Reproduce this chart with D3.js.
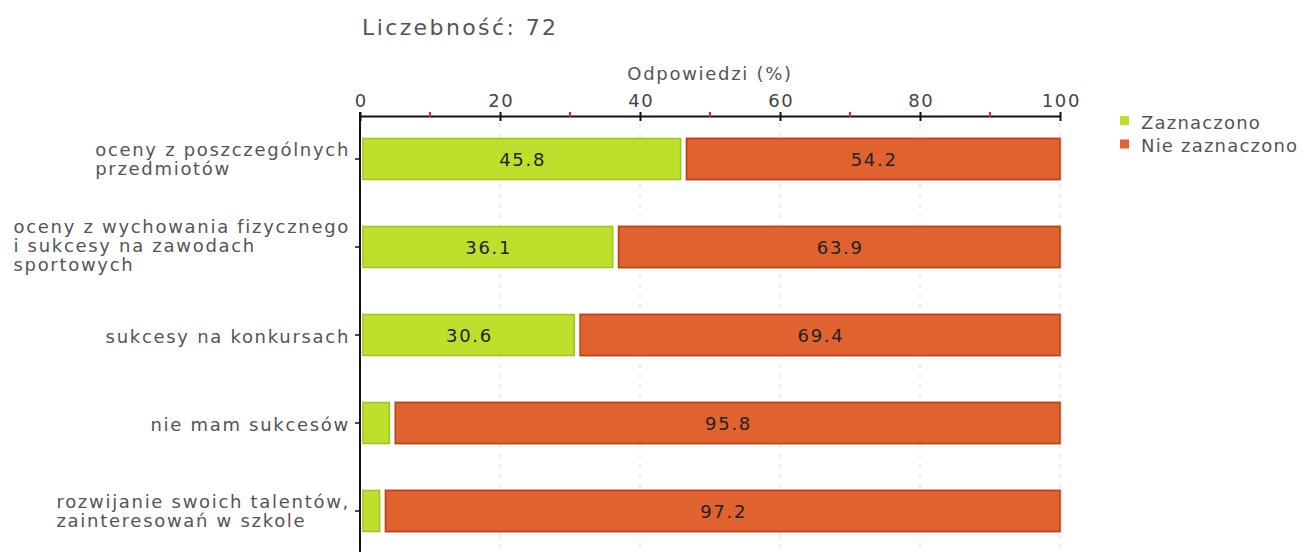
<!DOCTYPE html>
<html>
<head>
<meta charset="utf-8">
<script src="https://cdn.jsdelivr.net/npm/d3@7"></script>
<style>
  html, body { margin: 0; padding: 0; background: #fff; }
  svg { display: block; }
  text { font-family: "DejaVu Sans", Verdana, sans-serif; }
</style>
</head>
<body>
<svg id="chart" width="1304" height="552"></svg>
<script>
// Answer categories (each entry is a list of label lines)
const categories = [
  ["oceny z poszczególnych", "przedmiotów"],
  ["oceny z wychowania fizycznego", "i sukcesy na zawodach", "sportowych"],
  ["sukcesy na konkursach"],
  ["nie mam sukcesów"],
  ["rozwijanie swoich talentów,", "zainteresowań w szkole"]
];
// Share of answers (%)
const marked = [45.8, 36.1, 30.6, 4.2, 2.8];
const notMarked = [54.2, 63.9, 69.4, 95.8, 97.2];
const seriesNames = ["Zaznaczono", "Nie zaznaczono"];
const majorTicks = [0, 20, 40, 60, 80, 100];
const minorTicks = [10, 30, 50, 70, 90];
const sampleSize = 72;

const colors = {
  greenFill: "#bde02d", greenStroke: "#9bc41c",
  orangeFill: "#e0632f", orangeStroke: "#b8421a", orangeHalo: "#f6cfb8"
};
const FS = 18;      // base font size
const LS = 1.7;     // base letter spacing

const svg = d3.select("#chart");
const x = d3.scaleLinear().domain([0, 100]).range([360, 1060]);
const y = d3.scaleBand().domain(d3.range(categories.length)).range([115, 555]);
const barH = 41;
const axisY = 116;

// Title
svg.append("text").attr("x", 362).attr("y", 35)
  .attr("font-size", 22).attr("fill", "#555").attr("letter-spacing", 2.4)
  .text("Liczebność: " + sampleSize);

// Axis title
svg.append("text").attr("x", 710).attr("y", 80).attr("text-anchor", "middle")
  .attr("font-size", FS).attr("fill", "#555").attr("letter-spacing", LS)
  .text("Odpowiedzi (%)");

// Dashed grid
svg.append("g").selectAll("line").data(majorTicks.filter(d => d > 0)).join("line")
  .attr("x1", d => x(d)).attr("x2", d => x(d))
  .attr("y1", 124).attr("y2", 552)
  .attr("stroke", "#ddd").attr("stroke-width", 1).attr("stroke-dasharray", "4,6");

// Top axis
const axis = d3.axisTop(x).tickValues(majorTicks).tickSize(0).tickPadding(9);
const gAxis = svg.append("g").attr("transform", `translate(0,${axisY})`).call(axis);
gAxis.select(".domain").attr("stroke", "#111").attr("stroke-width", 2);
gAxis.selectAll(".tick text").attr("font-size", FS).attr("fill", "#444")
  .attr("font-family", "DejaVu Sans, sans-serif").attr("letter-spacing", LS)
  .attr("dx", LS / 2);
gAxis.selectAll(".tick").append("line")
  .attr("y1", -4).attr("y2", 5).attr("stroke", "#111").attr("stroke-width", 2);
svg.append("g").selectAll("line").data(minorTicks).join("line")
  .attr("x1", d => x(d)).attr("x2", d => x(d))
  .attr("y1", axisY - 4).attr("y2", axisY + 1)
  .attr("stroke", "#e8202a").attr("stroke-width", 2);

// Left axis line
svg.append("line").attr("x1", 360).attr("x2", 360).attr("y1", axisY - 4).attr("y2", 552)
  .attr("stroke", "#111").attr("stroke-width", 2);

// Category ticks and labels
const rows = svg.append("g").selectAll("g").data(categories).join("g")
  .attr("transform", (d, i) => `translate(0,${y(i) + y.bandwidth() / 2})`);
rows.append("line").attr("x1", 355).attr("x2", 360).attr("stroke", "#111").attr("stroke-width", 1.5);
rows.each(function (lines) {
  const g = d3.select(this);
  const t = g.append("text").attr("font-size", FS).attr("fill", "#555").attr("letter-spacing", LS);
  const lh = 19;
  const n = lines.length;
  const off = 8 - (n - 1) * 1.5;
  lines.forEach((ln, k) => {
    t.append("tspan").attr("x", 0).attr("y", off + (k - (n - 1) / 2) * lh).text(ln);
  });
  const w = d3.max(t.selectAll("tspan").nodes(), nd => nd.getComputedTextLength());
  t.selectAll("tspan").attr("x", 350 - w);
});

// Bars
const bars = svg.append("g");
marked.forEach((v, i) => {
  const cy = y(i) + y.bandwidth() / 2;
  const top = cy - barH / 2;
  const gx0 = x(0) + 3, gx1 = x(v);
  bars.append("rect").attr("x", gx0).attr("y", top).attr("width", gx1 - gx0).attr("height", barH)
    .attr("fill", colors.greenFill).attr("stroke", colors.greenStroke).attr("stroke-width", 1.5);
  const ox0 = x(v) + 6, ox1 = x(v + notMarked[i]);
  bars.append("rect").attr("x", ox0 - 1).attr("y", top - 1).attr("width", ox1 - ox0 + 2).attr("height", barH + 2)
    .attr("fill", "none").attr("stroke", colors.orangeHalo).attr("stroke-width", 1);
  bars.append("rect").attr("x", ox0).attr("y", top).attr("width", ox1 - ox0).attr("height", barH)
    .attr("fill", colors.orangeFill).attr("stroke", colors.orangeStroke).attr("stroke-width", 1.5);
  if (gx1 - gx0 > 50) {
    bars.append("text").attr("x", (gx0 + gx1) / 2 + LS / 2).attr("y", cy + 7).attr("text-anchor", "middle")
      .attr("font-size", FS).attr("fill", "#222").attr("letter-spacing", LS).text(v.toFixed(1));
  }
  if (ox1 - ox0 > 50) {
    bars.append("text").attr("x", (ox0 + ox1) / 2 + LS / 2).attr("y", cy + 7).attr("text-anchor", "middle")
      .attr("font-size", FS).attr("fill", "#222").attr("letter-spacing", LS).text(notMarked[i].toFixed(1));
  }
});

// Legend
const legend = svg.append("g").attr("transform", "translate(1120,116)");
const legColors = [colors.greenFill, colors.orangeFill];
seriesNames.forEach((name, k) => {
  const g = legend.append("g").attr("transform", `translate(0,${k * 23.5})`);
  g.append("rect").attr("width", 9).attr("height", 9).attr("fill", legColors[k]);
  g.append("text").attr("x", 21).attr("y", 12.5).attr("font-size", FS).attr("fill", "#555")
    .attr("letter-spacing", 1.2).text(name);
});
</script>
</body>
</html>
